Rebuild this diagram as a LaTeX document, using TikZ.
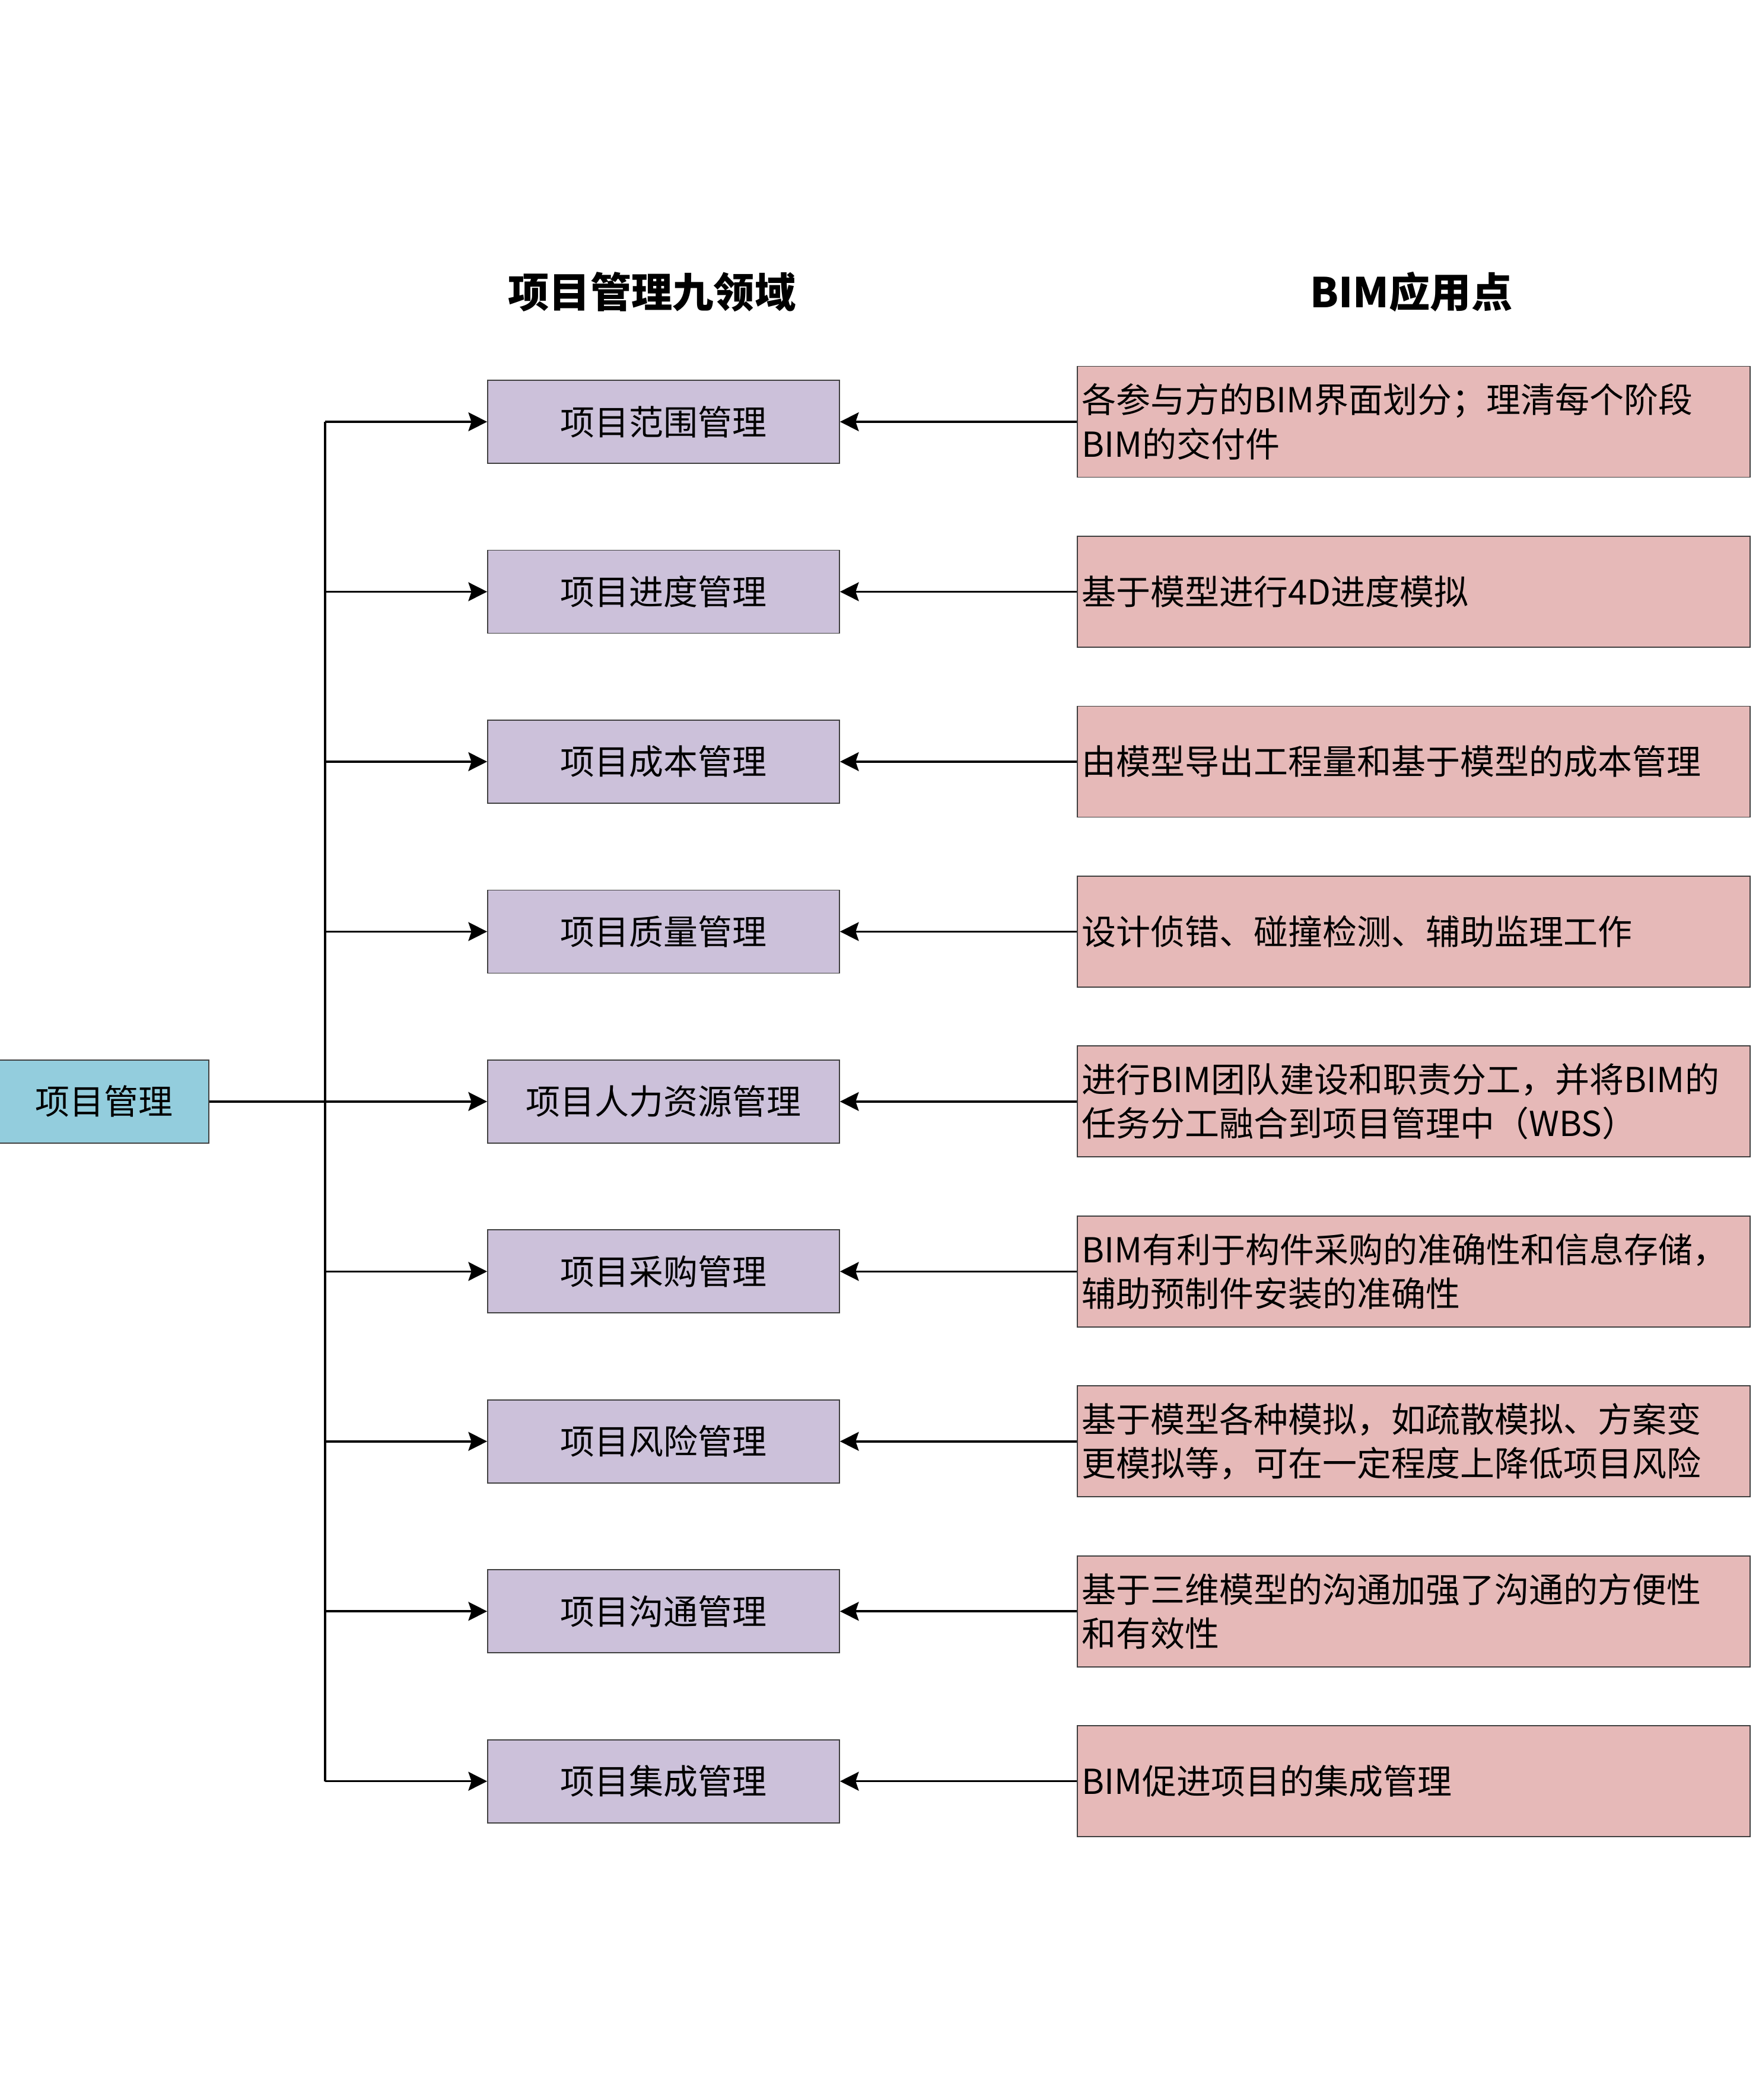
\documentclass[tikz,border=0pt]{standalone}
\usepackage{fontspec}
\setmainfont{Noto Sans CJK SC}
\usepackage{xcolor}
\usetikzlibrary{positioning, arrows.meta}
\definecolor{pmcol}{HTML}{93CDDD}
\definecolor{areacol}{HTML}{CCC1DA}
\definecolor{bimcol}{HTML}{E6B9B8}

\begin{document}
\begin{tikzpicture}[node distance=1.447cm, line width=1pt, >={Stealth[length=9pt,width=9pt,inset=1.5pt]},
    area/.style={draw=black!75, line width=0.5pt, fill=areacol, minimum height=1.4cm, minimum width=5.93cm, font=\fontsize{16.5}{21.2}\selectfont},
    bim/.style={draw=black!75, line width=0.5pt, fill=bimcol, minimum height=1.87cm, text width=11.18cm, inner xsep=0.08cm, align=left, font=\fontsize{16.5}{21.2}\selectfont},
    head/.style={font=\fontsize{19.7}{24}\selectfont\bfseries}]
       \useasboundingbox (0,0) rectangle (29.64,-35.40);

       % Headers
       \node[head] (harea) at (10.99,-4.92) {项目管理九领域};
       \node[head] (hbim) at (23.79,-4.92) {BIM应用点};

       % Nine areas
       \node[area] (scope) at (11.185,-7.11) {项目范围管理};
       \node[area, below=of scope] (time) {项目进度管理};
       \node[area, below=of time] (cost) {项目成本管理};
       \node[area, below=of cost] (quality) {项目质量管理};
       \node[area, below=of quality] (hr) {项目人力资源管理};
       \node[area, below=of hr] (procure) {项目采购管理};
       \node[area, below=of procure] (risk) {项目风险管理};
       \node[area, below=of risk] (comm) {项目沟通管理};
       \node[area, below=of comm] (integ) {项目集成管理};

       % Root
       \node[draw=black!75, line width=0.5pt, fill=pmcol, minimum height=1.4cm, minimum width=3.54cm, font=\fontsize{16.5}{21.2}\selectfont, left=4.68cm of hr] (pm) {项目管理};

       % BIM points
       \node[bim, right=3.99cm of scope] (bscope) {各参与方的BIM界面划分；理清每个阶段\\BIM的交付件};
       \node[bim, right=3.99cm of time] (btime) {基于模型进行4D进度模拟};
       \node[bim, right=3.99cm of cost] (bcost) {由模型导出工程量和基于模型的成本管理};
       \node[bim, right=3.99cm of quality] (bquality) {设计侦错、碰撞检测、辅助监理工作};
       \node[bim, right=3.99cm of hr] (bhr) {进行BIM团队建设和职责分工，并将BIM的\\任务分工融合到项目管理中（WBS）};
       \node[bim, right=3.99cm of procure] (bprocure) {BIM有利于构件采购的准确性和信息存储，\\辅助预制件安装的准确性};
       \node[bim, right=3.99cm of risk] (brisk) {基于模型各种模拟，如疏散模拟、方案变\\更模拟等，可在一定程度上降低项目风险};
       \node[bim, right=3.99cm of comm] (bcomm) {基于三维模型的沟通加强了沟通的方便性\\和有效性};
       \node[bim, right=3.99cm of integ] (binteg) {BIM促进项目的集成管理};

       % Tree
       \coordinate[right=1.95cm of pm.east] (trunk);
       \draw (trunk |- scope) -- (trunk |- integ);
       \draw[->] (pm) -- (hr);
       \draw[->] (trunk |- scope) -- (scope);
       \draw[->] (trunk |- time) -- (time);
       \draw[->] (trunk |- cost) -- (cost);
       \draw[->] (trunk |- quality) -- (quality);
       \draw[->] (trunk |- procure) -- (procure);
       \draw[->] (trunk |- risk) -- (risk);
       \draw[->] (trunk |- comm) -- (comm);
       \draw[->] (trunk |- integ) -- (integ);

       % BIM arrows
       \draw[->] (bscope) -- (scope);
       \draw[->] (btime) -- (time);
       \draw[->] (bcost) -- (cost);
       \draw[->] (bquality) -- (quality);
       \draw[->] (bhr) -- (hr);
       \draw[->] (bprocure) -- (procure);
       \draw[->] (brisk) -- (risk);
       \draw[->] (bcomm) -- (comm);
       \draw[->] (binteg) -- (integ);
\end{tikzpicture}
\end{document}
